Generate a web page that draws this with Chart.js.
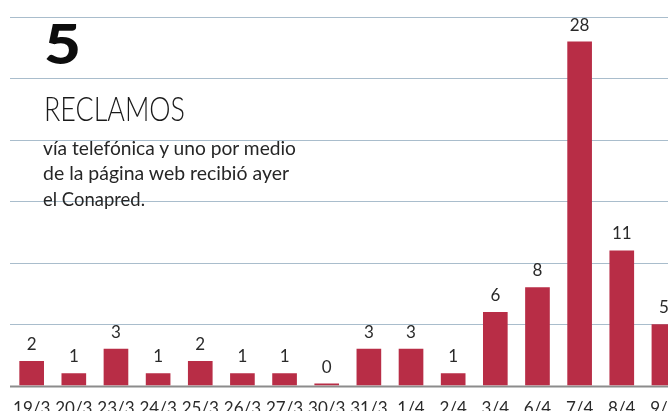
<!DOCTYPE html>
<html>
<head>
<meta charset="utf-8">
<script src="https://cdn.jsdelivr.net/npm/chart.js@4"></script>
<style>
  html, body { margin: 0; padding: 0; width: 668px; height: 411px; overflow: hidden; background: #fff; }
  #wrap { position: absolute; left: 0; top: 0; width: 700px; height: 440px; }
  .txt { position: absolute; white-space: nowrap; color: #1e1e1e; transform-origin: 0 0; }
  #big { left: 44px; top: 14.8px; font: 900 56px/56px "Lato", "DejaVu Sans", sans-serif; color: #0d0d0d; }
  #head { left: 44px; top: 90.8px; font: 300 34px/34px "Lato", sans-serif; color: #1a1a1a; }
  .sub { left: 43px; font: 400 19px/25px "Lato", sans-serif; color: #262626; }
</style>
</head>
<body>
<div id="wrap"><canvas id="c" width="700" height="440"></canvas></div>
<div id="big" class="txt" data-w="37">5</div>
<div id="head" class="txt" data-w="141">RECLAMOS</div>
<div class="txt sub" style="top:135.2px" data-w="253">vía telefónica y uno por medio</div>
<div class="txt sub" style="top:160.2px" data-w="246">de la página web recibió ayer</div>
<div class="txt sub" style="top:185.7px" data-w="102">el Conapred.</div>
<script>
const categories = ["19/3","20/3","23/3","24/3","25/3","26/3","27/3","30/3","31/3","1/4","2/4","3/4","6/4","7/4","8/4","9/4"];
const reclamos = [2,1,3,1,2,1,1,0,3,3,1,6,8,28,11,5];
const gridValues = [5,10,15,20,25,30];

const barColor = "#b82d46";
const gridColor = "#a9bdcc";
const baseColor = "#8c8c8c";

const gridPlugin = {
  id: "grid",
  beforeDatasetsDraw(chart) {
    const ctx = chart.ctx, y = chart.scales.y;
    ctx.save();
    ctx.strokeStyle = gridColor; ctx.lineWidth = 1;
    gridValues.forEach(v => {
      const py = Math.round(y.getPixelForValue(v)) + 0.5;
      ctx.beginPath(); ctx.moveTo(10, py); ctx.lineTo(chart.width, py); ctx.stroke();
    });
    ctx.strokeStyle = baseColor; ctx.lineWidth = 2;
    const p0 = y.getPixelForValue(0) + 1;
    ctx.beginPath(); ctx.moveTo(10, p0); ctx.lineTo(chart.width, p0); ctx.stroke();
    ctx.restore();
  }
};

const labelPlugin = {
  id: "vals",
  afterDatasetsDraw(chart) {
    const ctx = chart.ctx;
    const meta = chart.getDatasetMeta(0);
    ctx.save();
    ctx.font = '400 17px "Lato", sans-serif';
    ctx.fillStyle = "#2a2a2a";
    ctx.textAlign = "center";
    ctx.textBaseline = "alphabetic";
    meta.data.forEach((bar, i) => {
      ctx.fillText(String(reclamos[i]), bar.x, bar.y - 11);
    });
    ctx.restore();
  }
};

new Chart(document.getElementById("c"), {
  type: "bar",
  data: {
    labels: categories,
    datasets: [{
      data: reclamos,
      backgroundColor: barColor,
      borderWidth: 0,
      barPercentage: 0.585,
      categoryPercentage: 1,
      minBarLength: 2
    }]
  },
  options: {
    responsive: false,
    animation: false,
    devicePixelRatio: 1,
    layout: { padding: { left: 1, right: 15, top: 17, bottom: 8 } },
    plugins: { legend: { display: false }, tooltip: { enabled: false } },
    scales: {
      y: { min: 0, max: 30, display: false },
      x: {
        grid: { display: false, drawTicks: false },
        border: { display: false },
        ticks: {
          autoSkip: false, maxRotation: 0, padding: 13,
          color: "#2a2a2a",
          font: { family: "Lato", size: 17 }
        }
      }
    }
  },
  plugins: [gridPlugin, labelPlugin]
});

document.querySelectorAll(".txt[data-w]").forEach(el => {
  const w = el.getBoundingClientRect().width;
  const t = parseFloat(el.dataset.w);
  el.style.transform = "scaleX(" + (t / w) + ")";
});
</script>
</body>
</html>
